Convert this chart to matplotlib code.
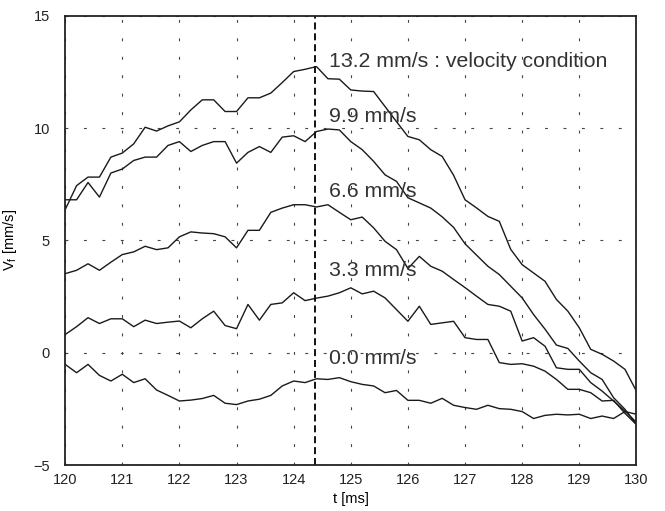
import numpy as np
import matplotlib
matplotlib.use("Agg")
import matplotlib.pyplot as plt

plt.rcParams['font.family'] = ['Liberation Sans', 'DejaVu Sans']
plt.rcParams['mathtext.fontset'] = 'custom'
plt.rcParams['mathtext.rm'] = 'Liberation Sans'
plt.rcParams['mathtext.it'] = 'Liberation Sans'

t = np.round(np.arange(120.0, 130.0001, 0.2), 1)

v_13_2 = [6.37, 7.44, 7.82, 7.82, 8.71, 8.89, 9.30, 10.04, 9.87, 10.10,
          10.28, 10.81, 11.26, 11.26, 10.74, 10.74, 11.35, 11.35, 11.56, 12.03,
          12.52, 12.62, 12.74, 12.20, 12.18, 11.70, 11.65, 11.63, 10.96, 10.29,
          9.63, 9.48, 9.04, 8.74, 7.90, 6.81, 6.45, 6.07, 5.85, 4.60,
          3.92, 3.55, 3.18, 2.37, 1.85, 1.11, 0.15, -0.07, -0.37, -0.74,
          -1.71]
v_9_9 = [6.81, 6.81, 7.58, 6.93, 8.00, 8.18, 8.56, 8.71, 8.71, 9.23,
         9.40, 8.96, 9.23, 9.40, 9.40, 8.44, 8.92, 9.18, 8.92, 9.60,
         9.66, 9.40, 9.85, 9.96, 9.92, 9.40, 9.04, 8.52, 7.92, 7.63,
         6.90, 6.67, 6.44, 6.05, 5.58, 4.85, 4.35, 3.85, 3.48, 2.96,
         2.44, 1.70, 1.05, 0.34, 0.19, -0.37, -0.89, -1.19, -2.00, -2.52,
         -3.19]
v_6_6 = [3.52, 3.67, 3.96, 3.67, 4.03, 4.37, 4.49, 4.74, 4.59, 4.67,
         5.16, 5.38, 5.33, 5.30, 5.16, 4.67, 5.45, 5.45, 6.25, 6.44,
         6.59, 6.59, 6.49, 6.59, 6.25, 5.92, 6.04, 5.56, 4.96, 4.59,
         3.75, 4.29, 3.85, 3.63, 3.26, 2.90, 2.52, 2.15, 2.07, 1.85,
         0.52, 0.67, 0.29, -0.67, -0.74, -0.74, -1.33, -1.71, -2.15, -2.60,
         -3.10]
v_3_3 = [0.81, 1.16, 1.56, 1.30, 1.51, 1.51, 1.16, 1.45, 1.30, 1.36,
         1.41, 1.11, 1.51, 1.85, 1.21, 1.07, 2.15, 1.45, 2.15, 2.22,
         2.67, 2.32, 2.43, 2.52, 2.67, 2.89, 2.62, 2.74, 2.44, 1.92,
         1.40, 2.07, 1.26, 1.33, 1.40, 0.67, 0.59, 0.59, -0.44, -0.52,
         -0.49, -0.60, -0.82, -1.19, -1.63, -1.63, -1.78, -2.15, -2.12, -2.70,
         -3.20]
v_0_0 = [-0.52, -0.89, -0.52, -1.01, -1.26, -0.96, -1.33, -1.16, -1.66, -1.90,
         -2.15, -2.11, -2.04, -1.90, -2.25, -2.31, -2.15, -2.07, -1.90, -1.48,
         -1.26, -1.33, -1.16, -1.19, -1.11, -1.29, -1.41, -1.48, -1.78, -1.68,
         -2.12, -2.12, -2.25, -2.03, -2.34, -2.44, -2.52, -2.34, -2.49, -2.52,
         -2.62, -2.93, -2.79, -2.74, -2.77, -2.74, -2.93, -2.82, -2.93, -2.62,
         -2.74]

series = [v_13_2, v_9_9, v_6_6, v_3_3, v_0_0]
labels = ["13.2 mm/s : velocity condition", "9.9 mm/s", "6.6 mm/s", "3.3 mm/s", "0.0 mm/s"]
label_y = [12.95, 10.5, 7.2, 3.65, -0.25]
label_x = 124.62
t_mark = 124.37

xticks = list(range(120, 131))
yticks = [-5, 0, 5, 10, 15]

fig = plt.figure(figsize=(6.65, 5.11), dpi=100)
ax = fig.add_axes([0.098, 0.09, 0.859, 0.879])

for v in series:
    ax.plot(t, v, color='#1a1a1a', lw=1.0)

ax.axvline(t_mark, color='#111111', lw=1.4, linestyle=(0, (3.6, 2.0)))

for lab, ly in zip(labels, label_y):
    ax.text(label_x, ly, lab, fontsize=15.3, color='#333333', va='center', ha='left')

ax.set_xlim(120, 130)
ax.set_ylim(-5, 15)
ax.set_xticks(xticks)
ax.set_yticks(yticks)
ax.tick_params(direction='in', length=0, width=0.8, labelsize=10.5, colors='#222222')
ax.tick_params(axis='x', pad=6)
ax.tick_params(axis='y', pad=11)
ax.grid(True, color='#444444', lw=0.8, linestyle=(0, (2.6, 14)))
for s in ax.spines.values():
    s.set_linewidth(1.3)
    s.set_color('#222222')

ax.set_xlabel("t [ms]", fontsize=10.5, labelpad=3)
ax.set_ylabel(r"V$_\mathregular{f}$ [mm/s]", fontsize=10.5, labelpad=10)

fig.savefig("out.png", dpi=100)
